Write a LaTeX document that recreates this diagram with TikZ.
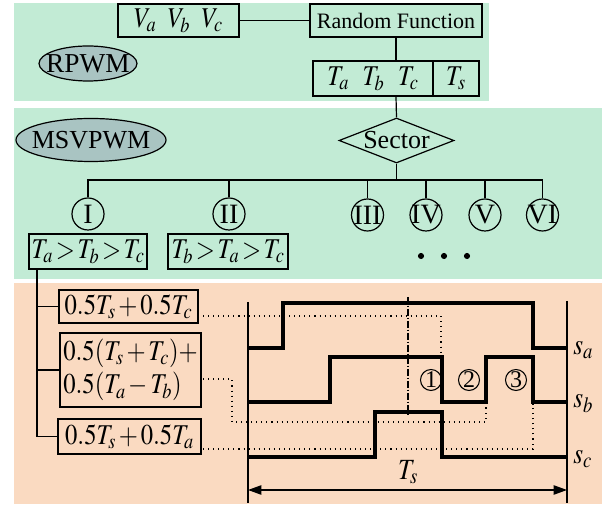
\documentclass[tikz,border=0pt]{standalone}
\usepackage{mathptmx}
\usepackage{fontspec}
\setmainfont{Liberation Serif}
\usetikzlibrary{shapes.geometric,arrows.meta}
\definecolor{pgreen}{HTML}{C2EBD5}
\definecolor{ppeach}{HTML}{FADAC1}
\definecolor{pgray}{HTML}{A9C4C2}
\newcommand\mth[1]{\scalebox{0.86}[1]{$\thickmuskip=3mu\medmuskip=2mu #1$}}
\newcommand\mrel[1]{\scalebox{0.86}[1]{$\thickmuskip=2mu\medmuskip=2mu #1$}}
\begin{document}
\begin{tikzpicture}[x=0.75pt,y=-0.75pt,
  box/.style={draw,line width=0.9pt,inner sep=0pt,font=\fontsize{21.5}{24}\selectfont},
  ell/.style={draw,ellipse,fill=pgray,line width=0.9pt,inner sep=-20pt},
  circ/.style={draw,circle,line width=0.9pt,inner sep=-10pt,minimum size=32*0.75pt,font=\fontsize{21}{22}\selectfont},
  num/.style={draw,circle,line width=0.8pt,inner sep=-5pt,minimum size=21*0.75pt,font=\fontsize{18}{18}\selectfont},
  conn/.style={line width=0.9pt},
  wave/.style={line width=2.3pt,line join=miter},
  axis/.style={line width=1.1pt},
  guide/.style={line width=0.8pt,dash pattern=on 0.8pt off 3pt},
  lbl/.style={font=\fontsize{22}{24}\selectfont,inner sep=0pt}]
\useasboundingbox (0,0) rectangle (608,505);
\fill[white] (0,0) rectangle (608,505);
\fill[pgreen] (14,3) rectangle (489,101);
\fill[pgreen] (14,108) rectangle (602,279);
\fill[ppeach] (14,283) rectangle (602,504);

% top panel
\node[box,minimum width=121*0.75pt,minimum height=33*0.75pt] (V) at (178.5,20.5) {\mth{V_a\hspace{10pt}V_b\hspace{10pt}V_c}};
\node[box,font=\fontsize{16.5}{19}\selectfont,minimum width=172*0.75pt,minimum height=33*0.75pt] (RF) at (396,20.5) {Random Function};
\node[box,minimum width=120*0.75pt,minimum height=35*0.75pt] (Tabc) at (373,78.5) {\mth{T_a\hspace{12pt}T_b\hspace{12pt}T_c}};
\node[box,minimum width=46*0.75pt,minimum height=35*0.75pt] (Ts) at (456,78.5) {\mth{T_s}};
\node[ell,font=\fontsize{20.5}{23}\selectfont,minimum width=98*0.75pt,minimum height=35*0.75pt] (RPWM) at (88,63.5) {RPWM};
\draw[conn] (V.east) -- (RF.west);
\draw[conn] (RF.south) -- (RF.south |- Tabc.north);

% second panel
\node[ell,font=\fontsize{19.5}{22}\selectfont,minimum width=150*0.75pt,minimum height=43*0.75pt] (MS) at (91,140) {MSVPWM};
\node[draw,diamond,line width=0.9pt,inner sep=-20pt,minimum width=115*0.75pt,minimum height=45*0.75pt,font=\fontsize{19.5}{22}\selectfont] (Sec) at (396.5,140.5) {Sector};
\draw[conn] (RF.south |- Tabc.south) -- (Sec.north);
\coordinate (bus) at (396.5,180);
\node[circ] (c1) at (88,214) {I};
\node[circ] (c2) at (229,214) {II};
\node[circ] (c3) at (367.5,215) {III};
\node[circ] (c4) at (426,215) {IV};
\node[circ] (c5) at (485,215) {V};
\node[circ] (c6) at (542.5,215) {VI};
\draw[conn] (Sec.south) -- (bus);
\draw[conn] (c1.north) -- (c1.north |- bus) -- (c6.north |- bus) -- (c6.north);
\foreach \c in {c2,c3,c4,c5} \draw[conn] (\c.north) -- (\c.north |- bus);
\foreach \x in {421,444,467} \fill (\x,256) circle (2.3pt);
\node[box,minimum width=118*0.75pt,minimum height=35*0.75pt] (o1) at (88,251.5) {\mrel{T_a>T_b>T_c}};
\node[box,minimum width=120*0.75pt,minimum height=35*0.75pt] (o2) at (228,251.5) {\mrel{T_b>T_a>T_c}};

% third panel
\node[box,minimum width=139*0.75pt,minimum height=33*0.75pt] (f1) at (128.5,306.5) {\mth{0.5T_s+0.5T_c}};
\node[box,minimum width=141*0.75pt,minimum height=74*0.75pt,align=left,font=\fontsize{21.5}{25}\selectfont] (f2) at (130.5,370) {\mth{0.5(T_s+T_c)+}\\\mth{0.5(T_a-T_b)}};
\node[box,minimum width=143*0.75pt,minimum height=35*0.75pt] (f3) at (129.5,436.5) {\mth{0.5T_s+0.5T_a}};
\coordinate (tree) at (37,269);
\draw[conn] (tree) |- (f3.west);
\draw[conn] (tree |- f1.west) -- (f1.west);
\draw[conn] (tree |- f2.west) -- (f2.west);

% timing diagram
\draw[axis] (248,302) -- (248,503);
\draw[axis] (567,301) -- (567,503);
\draw[line width=0.8pt,dash pattern=on 5pt off 1.5pt on 1pt off 1.5pt] (408,297) -- (408,417);
\draw[guide] (203,316) -- (441,316) -- (441,355);
\draw[guide] (203,379) -- (232,379) -- (232,422) -- (486,422) -- (486,404);
\draw[guide] (203,449) -- (533,449) -- (533,404);
\draw[wave] (248,348) -- (283,348) -- (283,303) -- (533,303) -- (533,348) -- (567,348);
\draw[wave] (248,402) -- (330,402) -- (330,357) -- (442,357) -- (442,402) -- (486,402) -- (486,357) -- (533,357) -- (533,402) -- (567,402);
\draw[wave] (248,457) -- (375,457) -- (375,412) -- (442,412) -- (442,457) -- (567,457);
\node[lbl,anchor=west] (sa) at (573,350) {\mth{s_a}};
\node[lbl,anchor=west] (sb) at (573,404) {\mth{s_b}};
\node[lbl,anchor=west] (sc) at (573,459) {\mth{s_c}};
\node[num] (n1) at (431,380) {1};
\node[num] (n2) at (469,380) {2};
\node[num] (n3) at (516,380) {3};
\node[lbl] (TsL) at (408,472) {\mth{T_s}};
\coordinate (al) at (248,490);
\coordinate (ar) at (567,490);
\draw[conn,{Triangle[length=10pt,width=7pt]}-{Triangle[length=10pt,width=7pt]}] (al) -- (ar);
\end{tikzpicture}
\end{document}
